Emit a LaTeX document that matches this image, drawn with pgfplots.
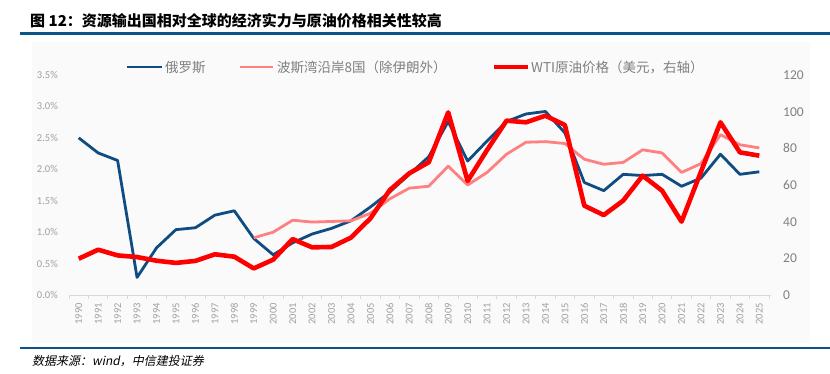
\documentclass[border=0pt]{standalone}
\usepackage{pgfplots}
\pgfplotsset{compat=1.18}
\usepackage{fontspec}
\setmainfont{Carlito}
\newfontfamily\cjk{Noto Sans CJK SC}
\newfontfamily\cjkit{Noto Sans CJK SC}[FakeSlant=0.2]
\definecolor{rublue}{HTML}{0F4C81}
\definecolor{gulfpink}{HTML}{FF8080}
\definecolor{wtired}{HTML}{FF0000}
\definecolor{rulecol}{HTML}{0B5389}
\definecolor{ticklab}{HTML}{A0A0A0}
\definecolor{ticklabr}{HTML}{808080}
\definecolor{legtxt}{HTML}{7F7F7F}
\definecolor{panel}{HTML}{FAFAFA}
\definecolor{axline}{HTML}{D9D9D9}

\pgfplotstableread{
year ru
1990 2.50
1991 2.26
1992 2.14
1993 0.28
1994 0.75
1995 1.04
1996 1.07
1997 1.27
1998 1.34
1999 0.90
2000 0.64
2001 0.83
2002 0.97
2003 1.06
2004 1.18
2005 1.40
2006 1.64
2007 1.92
2008 2.20
2009 2.76
2010 2.13
2011 2.45
2012 2.76
2013 2.88
2014 2.92
2015 2.58
2016 1.79
2017 1.66
2018 1.92
2019 1.90
2020 1.92
2021 1.73
2022 1.86
2023 2.24
2024 1.92
2025 1.96
}\rudata

\pgfplotstableread{
year gulf
1999 0.91
2000 1.00
2001 1.19
2002 1.16
2003 1.17
2004 1.18
2005 1.30
2006 1.53
2007 1.70
2008 1.73
2009 2.05
2010 1.75
2011 1.95
2012 2.24
2013 2.43
2014 2.44
2015 2.41
2016 2.16
2017 2.08
2018 2.11
2019 2.31
2020 2.26
2021 1.95
2022 2.09
2023 2.55
2024 2.39
2025 2.34
}\gulfdata

\pgfplotstableread{
year wti
1990 19.8
1991 24.7
1992 21.6
1993 20.7
1994 18.7
1995 17.5
1996 18.6
1997 22.2
1998 20.9
1999 14.5
2000 19.3
2001 30.5
2002 26.0
2003 26.2
2004 31.3
2005 41.8
2006 57.3
2007 66.4
2008 72.4
2009 99.6
2010 62.2
2011 79.1
2012 95.1
2013 94.2
2014 97.8
2015 92.7
2016 48.7
2017 43.6
2018 51.5
2019 65.1
2020 56.9
2021 40.0
2022 67.3
2023 94.2
2024 77.8
2025 76.0
}\wtidata

\begin{document}
\begin{tikzpicture}[x=1pt,y=1pt]
\useasboundingbox (0,0) rectangle (830,373);
% panel background
\fill[panel] (32,30) rectangle (810,331);
% rules
\fill[rulecol] (20,338) rectangle (830,341);
\fill[rulecol] (20,24) rectangle (830,26.5);
% title
\node[anchor=base west, inner sep=0] at (30,346) {\cjk\bfseries\fontsize{15}{18}\selectfont 图 12：资源输出国相对全球的经济实力与原油价格相关性较高};
% footer
\node[anchor=base west, inner sep=0] at (32,8) {\cjkit\fontsize{12}{14}\selectfont 数据来源：wind，中信建投证券};

\begin{axis}[
  scale only axis, width=702pt, height=220pt,
  at={(69pt,78pt)}, anchor=south west,
  xmin=1989.5, xmax=2025.6, ymin=0, ymax=3.5,
  axis x line*=bottom, axis y line*=left,
  separate axis lines,
  x axis line style={draw=axline, line width=0.9pt, -},
  y axis line style={draw=none},
  /pgf/number format/assume math mode=true,
  /pgf/number format/1000 sep={},
  xtick={1990,1991,...,2025},
  minor xtick={1989.5,1990.5,...,2025.5},
  major tick length=0pt,
  minor tick length=4pt,
  tick align=outside,
  minor tick style={draw=axline, line width=0.8pt},
  major tick style={draw=none},
  xticklabel style={rotate=90, anchor=east, font=\fontsize{10.5}{12}\selectfont, text=ticklab, inner sep=0pt},
  xticklabel shift=8pt,
  ytick={0,0.5,...,3.5},
  yticklabel={\pgfmathprintnumber[fixed,fixed zerofill,precision=1]{\tick}\%},
  yticklabel style={font=\fontsize{10.5}{12}\selectfont, text=ticklab, inner sep=0pt},
  yticklabel shift=11pt,
  clip=false,
]
\addplot[rublue, line width=2.8pt, line join=round] table[x=year,y=ru]{\rudata};
\addplot[gulfpink, line width=2.8pt, line join=round] table[x=year,y=gulf]{\gulfdata};
\end{axis}

\begin{axis}[
  scale only axis, width=702pt, height=220pt,
  at={(69pt,78pt)}, anchor=south west,
  xmin=1989.5, xmax=2025.6, ymin=0, ymax=120,
  axis x line=none, axis y line*=right,
  y axis line style={draw=none},
  /pgf/number format/assume math mode=true,
  ytick={0,20,...,120},
  major tick length=0pt,
  major tick style={draw=none},
  yticklabel style={font=\fontsize{13.5}{15}\selectfont, text=ticklabr, inner sep=0pt},
  yticklabel shift=12pt,
  clip=false,
]
\addplot[wtired, line width=4.6pt, line join=round] table[x=year,y=wti]{\wtidata};
\end{axis}

% legend
\draw[rublue, line width=2.8pt] (127,306) -- (162,306);
\node[anchor=west, inner sep=0] at (165,306) {\cjk\fontsize{13.5}{15}\selectfont\color{legtxt}俄罗斯};
\draw[gulfpink, line width=2.8pt] (240,306) -- (273,306);
\node[anchor=west, inner sep=0] at (277,306) {\cjk\fontsize{13.5}{15}\selectfont\color{legtxt}波斯湾沿岸8国（除伊朗外）};
\draw[wtired, line width=4.6pt] (494,306) -- (528,306);
\node[anchor=west, inner sep=0] at (531,306) {\cjk\fontsize{13.5}{15}\selectfont\color{legtxt}WTI原油价格（美元，右轴）};
\end{tikzpicture}
\end{document}
